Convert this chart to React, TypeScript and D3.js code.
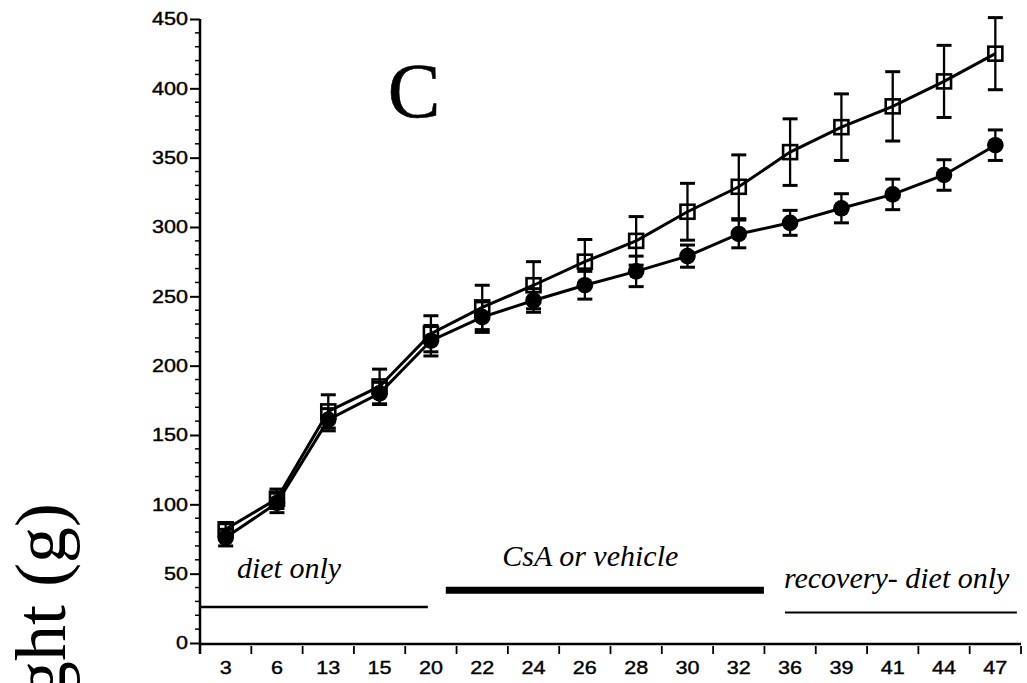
import React, { useRef, useEffect } from "react";
import * as d3 from "d3";

// days on study (x categories)
const days = ["3", "6", "13", "15", "20", "22", "24", "26", "28", "30", "32", "36", "39", "41", "44", "47"];

// open squares
const vehicleMean = [82, 104, 167, 185, 223, 242, 258, 275, 290, 311, 329, 354, 372, 387, 405, 425];
const vehicleSem = [4, 7, 12, 12.5, 13, 16, 17, 16, 17.5, 20.5, 23, 24, 24, 25, 26, 26];

// filled circles
const csaMean = [76, 101, 161, 180, 218, 235, 247, 258, 268, 279, 295, 303, 313.5, 323.5, 337.5, 359];
const csaSem = [6, 7, 8, 8, 11, 11, 8.5, 10, 11, 8, 10, 9, 10.5, 11, 11, 11];

const yTicks = [0, 50, 100, 150, 200, 250, 300, 350, 400, 450];

// treatment phases: label, bar start/end (in band units), bar level, label level
const phaseNames = ["diet only", "CsA or vehicle", "recovery- diet only"];
const phaseStart = [0, 4.79, 11.4];
const phaseEnd = [4.44, 10.99, 15.92];
const phaseLevel = [26, 38, 22];
const phaseLabelX = [0.72, 5.89, 11.38];
const phaseLabelLevel = [47, 55.5, 40];
const phaseWidth = [2.5, 7, 2];

const W = 1027;
const H = 683;

const App = () => {
  const svgRef = useRef<SVGSVGElement>(null);

  useEffect(() => {
    const svg = d3.select(svgRef.current);
    svg.selectAll("*").remove();

    const x0 = 200;
    const x1 = 1021;
    const y = d3.scaleLinear().domain([0, 450]).range([643, 19]);
    const x = d3.scaleBand().domain(days).range([x0, x1]).padding(0);
    const unit = d3.scaleLinear().domain([0, days.length]).range([x0, x1]);
    const cx = (d: string) => (x(d) as number) + x.bandwidth() / 2;

    const g = svg.append("g");

    // y axis
    const yAxis = g.append("g").attr("transform", `translate(${x0},0)`);
    yAxis
      .call(
        d3.axisLeft(y).tickValues(yTicks).tickSize(10).tickSizeOuter(0).tickPadding(2)
      )
      .call((s) => s.select(".domain").remove());
    yAxis
      .selectAll("line")
      .attr("stroke", "#000")
      .attr("stroke-width", 2);
    yAxis
      .selectAll("text")
      .attr("font-family", "Liberation Sans, Arial, sans-serif")
      .attr("font-size", 18.5)
      .attr("fill", "#000")
      .attr("stroke", "#000")
      .attr("stroke-width", 0.4)
      .attr("textLength", (d: any) => String(d).length * 12)
      .attr("lengthAdjust", "spacingAndGlyphs");

    // minor y ticks every 10
    g.append("g")
      .selectAll("line")
      .data(d3.range(0, 451, 10).filter((v) => v % 50 !== 0))
      .join("line")
      .attr("x1", x0 - 5)
      .attr("x2", x0)
      .attr("y1", (d) => y(d))
      .attr("y2", (d) => y(d))
      .attr("stroke", "#000")
      .attr("stroke-width", 1.5);

    g.append("line")
      .attr("x1", x0)
      .attr("x2", x0)
      .attr("y1", y(450))
      .attr("y2", y(0) + 11)
      .attr("stroke", "#000")
      .attr("stroke-width", 2.5);

    // x axis
    const xAxisY = y(0) + 1;
    g.append("line")
      .attr("x1", x0)
      .attr("x2", x1)
      .attr("y1", xAxisY)
      .attr("y2", xAxisY)
      .attr("stroke", "#000")
      .attr("stroke-width", 2.5);

    g.append("g")
      .selectAll("line")
      .data(d3.range(0, days.length + 1))
      .join("line")
      .attr("x1", (i) => unit(i))
      .attr("x2", (i) => unit(i))
      .attr("y1", xAxisY + 2)
      .attr("y2", xAxisY + 10)
      .attr("stroke", "#000")
      .attr("stroke-width", 1.8);

    g.append("g")
      .selectAll("text")
      .data(days)
      .join("text")
      .attr("x", (d) => cx(d))
      .attr("y", 674)
      .attr("text-anchor", "middle")
      .attr("font-family", "Liberation Sans, Arial, sans-serif")
      .attr("font-size", 18.5)
      .attr("stroke", "#000")
      .attr("stroke-width", 0.4)
      .attr("textLength", (d) => d.length * 12)
      .attr("lengthAdjust", "spacingAndGlyphs")
      .text((d) => d);

    // y axis title (cut off by the page edge, as in the original)
    g.append("text")
      .attr("transform", `translate(65,503) rotate(-90)`)
      .attr("text-anchor", "end")
      .attr("font-family", "Liberation Serif, Times New Roman, serif")
      .attr("font-size", 72)
      .text("Body weight (g)");

    // panel letter
    g.append("text")
      .attr("x", 414)
      .attr("y", 117)
      .attr("text-anchor", "middle")
      .attr("font-family", "Liberation Serif, Times New Roman, serif")
      .attr("font-size", 79)
      .attr("stroke", "#000")
      .attr("stroke-width", 0.6)
      .text("C");

    // phase bars and labels
    phaseNames.forEach((name, i) => {
      g.append("line")
        .attr("x1", unit(phaseStart[i]))
        .attr("x2", unit(phaseEnd[i]))
        .attr("y1", y(phaseLevel[i]))
        .attr("y2", y(phaseLevel[i]))
        .attr("stroke", "#000")
        .attr("stroke-width", phaseWidth[i]);
      g.append("text")
        .attr("x", unit(phaseLabelX[i]))
        .attr("y", y(phaseLabelLevel[i]))
        .attr("font-family", "Liberation Serif, Times New Roman, serif")
        .attr("font-style", "italic")
        .attr("font-size", 30)
        .text(name);
    });

    const line = d3
      .line<number>()
      .x((_, i) => cx(days[i]))
      .y((d) => y(d));

    const drawSeries = (mean: number[], sem: number[], kind: "circle" | "square") => {
      const s = g.append("g");
      s.append("path")
        .datum(mean)
        .attr("d", line)
        .attr("fill", "none")
        .attr("stroke", "#000")
        .attr("stroke-width", 3);

      const err = s
        .selectAll("g.err")
        .data(mean)
        .join("g")
        .attr("class", "err");
      err
        .append("line")
        .attr("x1", (_, i) => cx(days[i]))
        .attr("x2", (_, i) => cx(days[i]))
        .attr("y1", (d, i) => y(d + sem[i]))
        .attr("y2", (d, i) => y(d - sem[i]))
        .attr("stroke", "#000")
        .attr("stroke-width", 2.3);
      [1, -1].forEach((sign) => {
        err
          .append("line")
          .attr("x1", (_, i) => cx(days[i]) - 7.5)
          .attr("x2", (_, i) => cx(days[i]) + 7.5)
          .attr("y1", (d, i) => y(d + sign * sem[i]))
          .attr("y2", (d, i) => y(d + sign * sem[i]))
          .attr("stroke", "#000")
          .attr("stroke-width", 3);
      });

      if (kind === "circle") {
        s.selectAll("circle")
          .data(mean)
          .join("circle")
          .attr("cx", (_, i) => cx(days[i]))
          .attr("cy", (d) => y(d))
          .attr("r", 8.3)
          .attr("fill", "#000");
      } else {
        s.selectAll("rect")
          .data(mean)
          .join("rect")
          .attr("x", (_, i) => cx(days[i]) - 7)
          .attr("y", (d) => y(d) - 7)
          .attr("width", 14)
          .attr("height", 14)
          .attr("fill", "none")
          .attr("stroke", "#000")
          .attr("stroke-width", 2.6);
      }
    };

    drawSeries(csaMean, csaSem, "circle");
    drawSeries(vehicleMean, vehicleSem, "square");
  }, []);

  return (
    <svg
      ref={svgRef}
      width={W}
      height={H}
      style={{ position: "absolute", left: 0, top: 0, background: "#fff", display: "block" }}
    />
  );
};

export default App;
